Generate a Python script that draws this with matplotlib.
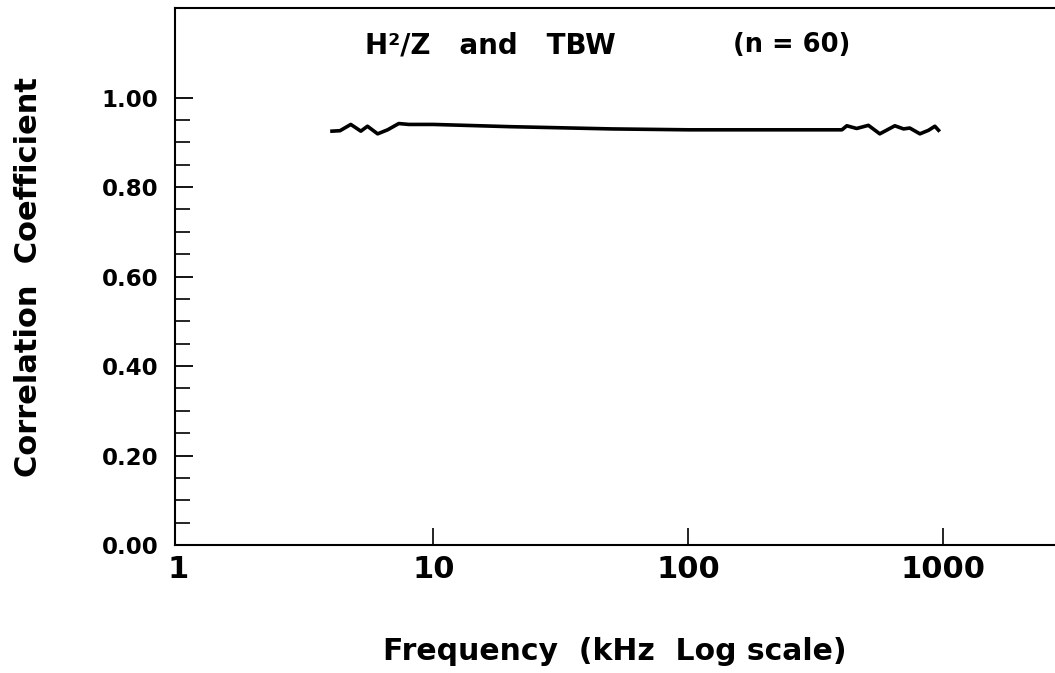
import matplotlib
matplotlib.use("Agg")
import matplotlib.pyplot as plt
import matplotlib.ticker as mticker

# correlation between H^2/Z and TBW across frequency
freq_khz = [4.0, 4.3, 4.74, 5.19, 5.51, 6.04, 6.61, 7.31, 8.0, 10.0, 20.0, 50.0,
            100.0, 200.0, 400.0, 418.0, 457.0, 508.0, 563.0, 645.0, 698.0, 738.0,
            809.0, 875.0, 926.0, 957.0]
corr = [0.925, 0.926, 0.940, 0.925, 0.936, 0.919, 0.928, 0.942, 0.940, 0.940,
        0.935, 0.930, 0.928, 0.928, 0.928, 0.937, 0.931, 0.938, 0.919, 0.937,
        0.930, 0.932, 0.919, 0.927, 0.936, 0.927]

x_ticks = [1, 10, 100, 1000]
x_tick_labels = ["1", "10", "100", "1000"]
y_ticks = [0.0, 0.2, 0.4, 0.6, 0.8, 1.0]
y_minor = [0.05, 0.1, 0.15, 0.25, 0.3, 0.35, 0.45, 0.5, 0.55, 0.65, 0.7, 0.75,
           0.85, 0.9, 0.95]

plt.rcParams["font.family"] = ["DejaVu Sans"]
plt.rcParams["font.weight"] = "bold"

fig = plt.figure(figsize=(10.55, 6.73), dpi=100)
ax = fig.add_axes([0.166, 0.19, 0.834, 0.798])

ax.plot(freq_khz, corr, color="black", linewidth=2.6)

ax.set_xscale("log")
ax.set_xlim(0.97, 2740)
ax.set_ylim(0, 1.2)

ax.xaxis.set_major_locator(mticker.FixedLocator(x_ticks))
ax.xaxis.set_major_formatter(mticker.FixedFormatter(x_tick_labels))
ax.xaxis.set_minor_locator(mticker.NullLocator())
ax.yaxis.set_major_locator(mticker.FixedLocator(y_ticks))
ax.yaxis.set_minor_locator(mticker.FixedLocator(y_minor))
ax.yaxis.set_major_formatter(mticker.FormatStrFormatter("%.2f"))

ax.tick_params(axis="x", which="major", direction="in", length=12, width=1.2,
               labelsize=22, pad=7, top=False)
ax.tick_params(axis="y", which="major", direction="in", length=13, width=1.3,
               labelsize=16.5, pad=12, right=False)
ax.tick_params(axis="y", which="minor", direction="in", length=11, width=1.2,
               right=False)
# the tick at 1 sits on the left spine
ax.xaxis.get_major_ticks()[0].tick1line.set_visible(False)

for side in ("left", "bottom", "top"):
    ax.spines[side].set_linewidth(1.5)
ax.spines["right"].set_visible(False)

ax.set_xlabel("Frequency  (kHz  Log scale)", fontsize=21.5, fontweight="bold",
              labelpad=38)
ax.set_ylabel("Correlation  Coefficient", fontsize=22, fontweight="bold",
              labelpad=42)

ax.text(0.216, 0.931, "H\u00b2/Z   and   TBW", transform=ax.transAxes,
        fontsize=20, fontweight="bold", ha="left", va="center")
ax.text(0.634, 0.931, "(n = 60)", transform=ax.transAxes,
        fontsize=18.5, fontweight="bold", ha="left", va="center")

fig.savefig("out.png", dpi=100)
